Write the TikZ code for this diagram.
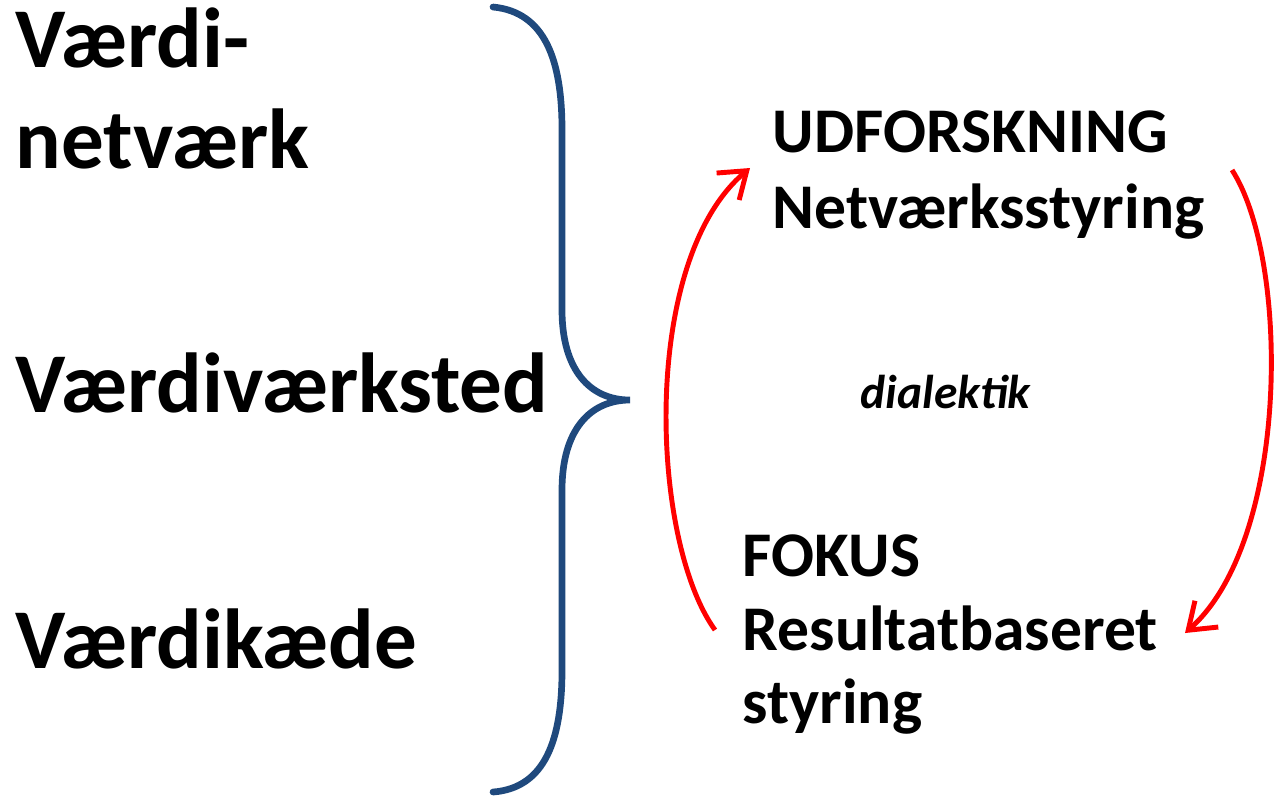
\documentclass[tikz,border=0pt]{standalone}
\usepackage{fontspec}
\setmainfont{Carlito}
\usepackage{tikz}
\usetikzlibrary{arrows.meta}
\definecolor{bracebl}{RGB}{31,73,125}
\tikzset{
  bigtxt/.style={anchor=base west, inner sep=0pt, font=\fontsize{24.2}{28}\selectfont\bfseries},
  medtxt/.style={anchor=base west, inner sep=0pt, font=\fontsize{18.1}{21}\selectfont\bfseries},
  loop/.style={red, line width=1.4pt, -{Straight Barb[length=7pt, width=10pt, line width=1.4pt]}}
}
\begin{document}
\begin{tikzpicture}[x=0.01cm, y=-0.01cm]
                \useasboundingbox (0,0) rectangle (1274,799);
                
                % Left column: kinds of value creation
                \node[bigtxt] (vnet1) at (15, 67) {Værdi-};
                \node[bigtxt] (vnet2) at (15, 168) {netværk};
                \node[bigtxt] (vvs) at (15, 412) {Værdiværksted};
                \node[bigtxt] (vk) at (15, 668) {Værdikæde};
                
                % Brace
                \draw[bracebl, line width=1.9pt, line cap=round]
                  (493, 7) .. controls (545, 12) and (562, 60) .. (562, 130)
                  -- (562, 310) .. controls (562, 370) and (590, 400) .. (630, 400)
                  .. controls (590, 400) and (562, 430) .. (562, 490)
                  -- (562, 670) .. controls (562, 740) and (545, 788) .. (493, 792);
                
                % Right column
                \node[medtxt] (udf) at (772, 152) {UDFORSKNING};
                \node[medtxt] (netst) at (772, 228) {Netværksstyring};
                \node[anchor=base west, inner sep=0pt, font=\fontsize{13.5}{16}\selectfont\bfseries\itshape] (dia) at (860, 408) {dialektik};
                \node[medtxt] (fok) at (742, 576) {FOKUS};
                \node[medtxt] (res) at (742, 650) {Resultatbaseret};
                \node[medtxt] (sty) at (742, 723) {styring};
                
                % Arrows
                \coordinate (lstart) at (715, 630);
                \coordinate (lend) at (750, 168);
                \coordinate (rstart) at (1232, 170);
                \coordinate (rend) at (1185, 633);
                \draw[loop] (lstart) .. controls (650, 540) and (640, 260) .. (lend);
                \draw[loop] (rstart) .. controls (1290, 260) and (1290, 540) .. (rend);
\end{tikzpicture}
\end{document}
